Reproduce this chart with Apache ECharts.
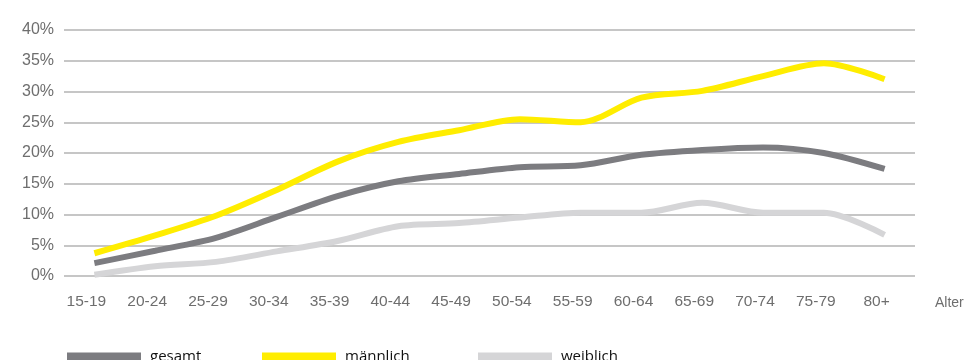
<!DOCTYPE html>
<html>
<head>
<meta charset="utf-8">
<script src="https://cdn.jsdelivr.net/npm/echarts@6/dist/echarts.min.js"></script>
<style>html,body{margin:0;padding:0;background:#fff}#c{width:967px;height:360px}</style>
</head>
<body>
<div id="c"></div>
<script>
const categories = ['15-19','20-24','25-29','30-34','35-39','40-44','45-49','50-54','55-59','60-64','65-69','70-74','75-79','80+'];
const gesamt   = [2.1, 4.1, 6.2, 9.6, 13.0, 15.4, 16.6, 17.7, 18.0, 19.7, 20.5, 20.9, 20.0, 17.4];
const maennlich = [3.7, 6.6, 9.8, 14.0, 18.6, 21.8, 23.7, 25.5, 25.0, 29.0, 30.1, 32.5, 34.6, 32.0];
const weiblich = [0.2, 1.6, 2.3, 4.0, 5.7, 8.1, 8.6, 9.5, 10.3, 10.3, 11.9, 10.3, 10.3, 6.7];
const yTicks = [0, 5, 10, 15, 20, 25, 30, 35, 40];

const chart = echarts.init(document.getElementById('c'));
const axisFont = 'Liberation Sans, Arial, sans-serif';
const legendFont = 'Open Sans, sans-serif';
function legendAt(name, left) {
  return {
    data: [name], left: left, top: 349, orient: 'horizontal', padding: 0,
    itemWidth: 74, itemHeight: 8, itemGap: 8,
    icon: 'rect',
    textStyle: { fontFamily: legendFont, fontSize: 15, color: '#111', padding: [0, 0, 0, 4] },
    selectedMode: false
  };
}
chart.setOption({
  animation: false,
  grid: { left: 64, right: 52, top: 30, bottom: 84 },
  legend: [legendAt('gesamt', 67), legendAt('männlich', 262), legendAt('weiblich', 478)],
  xAxis: {
    type: 'category', data: categories, boundaryGap: true,
    axisLine: { show: false }, axisTick: { show: false },
    axisLabel: { color: '#6e6e6e', fontFamily: axisFont, fontSize: 15.5, margin: 18, padding: [0, 16, 0, 0] },
    name: 'Alter', nameLocation: 'end', nameGap: 20,
    nameTextStyle: { color: '#6e6e6e', fontFamily: axisFont, fontSize: 14, verticalAlign: 'top', padding: [20, 0, 0, 0] }
  },
  yAxis: {
    type: 'value', min: yTicks[0], max: yTicks[yTicks.length - 1], interval: 5,
    axisLine: { show: false }, axisTick: { show: false },
    axisLabel: { color: '#6e6e6e', fontFamily: axisFont, fontSize: 16, margin: 10, formatter: v => v + '%' },
    splitLine: { lineStyle: { color: '#b3b3b3', width: 1.5 } }
  },
  series: [
    { name: 'gesamt', type: 'line', data: gesamt, smooth: 0.3, symbol: 'none', z: 3,
      lineStyle: { color: '#7c7c80', width: 6 }, itemStyle: { color: '#7c7c80' } },
    { name: 'männlich', type: 'line', data: maennlich, smooth: 0.3, symbol: 'none', z: 4,
      lineStyle: { color: '#ffed00', width: 6 }, itemStyle: { color: '#ffed00' } },
    { name: 'weiblich', type: 'line', data: weiblich, smooth: 0.3, symbol: 'none', z: 2,
      lineStyle: { color: '#d5d5d7', width: 6 }, itemStyle: { color: '#d5d5d7' } }
  ]
});
</script>
</body>
</html>
